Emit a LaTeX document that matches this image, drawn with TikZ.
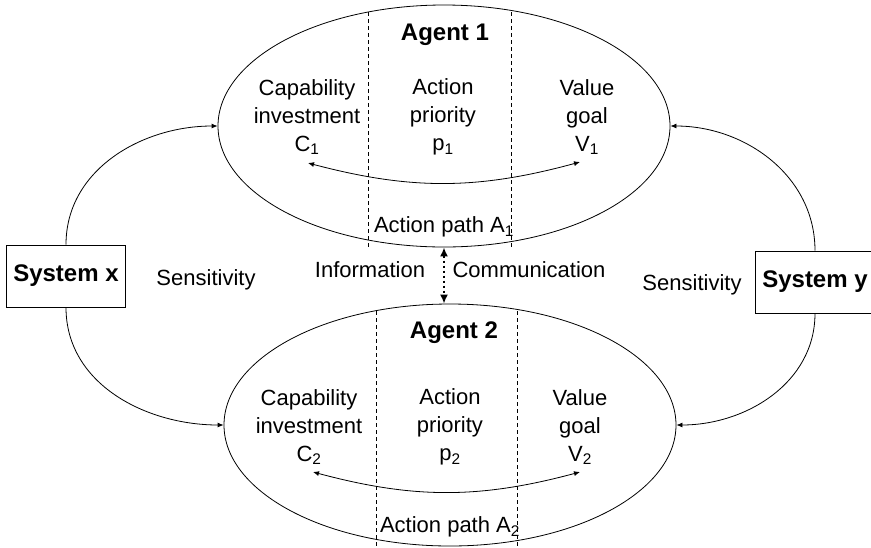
\documentclass[tikz,border=0pt]{standalone}
\usepackage{fontspec}
\setmainfont{Liberation Sans}
\usetikzlibrary{shapes.geometric,arrows.meta}

\begin{document}
\begin{tikzpicture}[x=1pt,y=1pt,line width=0.8pt,>={Latex[length=6pt,width=5pt]},
  agent/.style={draw,ellipse,minimum width=452pt,minimum height=242pt,inner sep=0pt},
  sysbox/.style={draw,rectangle,minimum width=119pt,minimum height=62pt,inner sep=0pt,
    font=\fontsize{24}{28}\selectfont\bfseries},
  txt/.style={align=center,inner sep=0pt,font=\fontsize{22}{28}\selectfont},
  hd/.style={inner sep=0pt,font=\fontsize{24}{28}\selectfont\bfseries}]
\useasboundingbox (0,0) rectangle (871,-547);

\node[agent] (agentA) at (444,-126) {};
\node[agent] (agentB) at (450,-425) {};
\draw[dash pattern=on 4pt off 3pt] (368,-12) -- (368,-247);
\draw[dash pattern=on 4pt off 3pt] (511,-12) -- (511,-247);
\draw[dash pattern=on 4pt off 3pt] (376,-311) -- (376,-547);
\draw[dash pattern=on 4pt off 3pt] (517,-311) -- (517,-547);

\node[hd] (nameA) at (445,-35) {Agent 1};
\node[txt] (capA) at (307,-117) {Capability\\investment\\C\textsubscript{1}};
\node[txt] (prioA) at (443,-117) {Action\\priority\\p\textsubscript{1}};
\node[txt] (valA) at (587,-117) {Value\\goal\\V\textsubscript{1}};
\node[txt] (pathA) at (444,-227) {Action path A\textsubscript{1}};

\node[hd] (nameB) at (454,-333) {Agent 2};
\node[txt] (capB) at (309,-427) {Capability\\investment\\C\textsubscript{2}};
\node[txt] (prioB) at (450,-427) {Action\\priority\\p\textsubscript{2}};
\node[txt] (valB) at (580,-427) {Value\\goal\\V\textsubscript{2}};
\node[txt] (pathB) at (450,-527) {Action path A\textsubscript{2}};

\node[sysbox] (sysx) at (66,-276) {System x};
\node[sysbox] (sysy) at (815,-282) {System y};
\node[txt] (sensx) at (206,-280) {Sensitivity};
\node[txt] (sensy) at (692,-285) {Sensitivity};
\node[txt] (info) at (370,-270) {Information};
\node[txt] (comm) at (529,-270) {Communication};

\coordinate (cA) at (308,-163); \coordinate (vA) at (580,-162);
\coordinate (cB) at (313,-472); \coordinate (vB) at (580,-472);
\draw[<->] (cA) to[bend right=15] (vA);
\draw[<->] (cB) to[bend right=15] (vB);

\draw[->] (sysx.north) to[out=90,in=180] (agentA.west);
\draw[->] (sysx.south) to[out=-90,in=180] (agentB.west);
\draw[->] (sysy.north) to[out=90,in=0] (agentA.east);
\draw[->] (sysy.south) to[out=-90,in=0] (agentB.east);
\draw[{Latex[length=9pt,width=8pt]}-{Latex[length=9pt,width=8pt]},line width=2.5pt,
  dash pattern=on 2.5pt off 2.5pt] (agentA.south) -- (agentA.south |- agentB.north);
\end{tikzpicture}
\end{document}
